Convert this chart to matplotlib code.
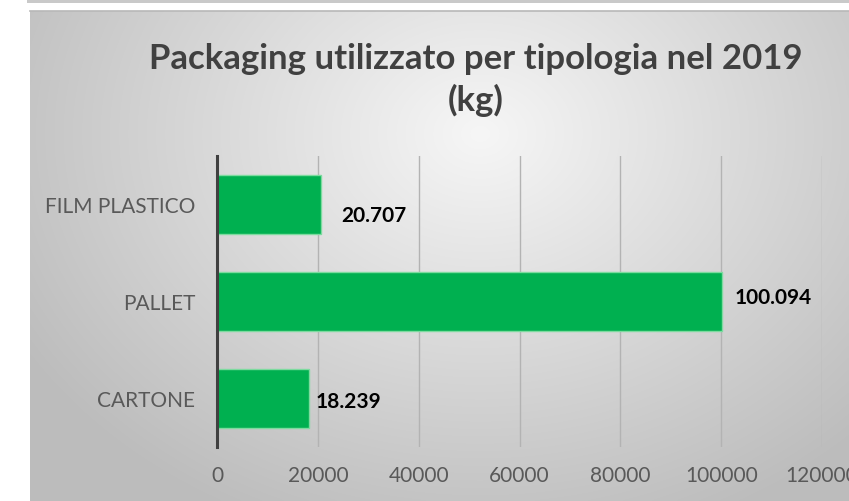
import numpy as np
import matplotlib
matplotlib.use("Agg")
import matplotlib.pyplot as plt
from matplotlib.patches import Rectangle

categories = ["CARTONE", "PALLET", "FILM PLASTICO"]
values = [18239, 100094, 20707]
value_labels = ["18.239", "100.094", "20.707"]
xticks = [0, 20000, 40000, 60000, 80000, 100000, 120000]
title = "Packaging utilizzato per tipologia nel 2019\n(kg)"

W, H = 849, 502
plt.rcParams['font.family'] = ['Lato', 'DejaVu Sans']
fig = plt.figure(figsize=(W / 100, H / 100), dpi=100)
fig.patch.set_facecolor("white")

def fx(px):
    return px / W

def fy(py):
    return 1 - py / H

# top strip
fig.patches.append(Rectangle((fx(27), fy(4)), 1, 4 / H, transform=fig.transFigure,
                             facecolor="#c9c9c9", edgecolor="none", zorder=0))

# background gradient box
bx0, by0 = 30, 12
bg = fig.add_axes([fx(bx0), 0, 1 - fx(bx0), fy(by0)], zorder=0)
nx, ny = 400, 250
u = np.linspace(0, 1, nx)[None, :]
v = np.linspace(0, 1, ny)[:, None]
d = np.sqrt(((u - 0.55) / 0.75) ** 2 + ((v - 0.25) / 1.0) ** 2)
g = np.clip(0.965 - 0.26 * d, 0.74, 1)
img = np.dstack([g, g, g])
bg.imshow(img, aspect="auto", extent=[0, 1, 0, 1], origin="upper", interpolation="bilinear")
bg.set_axis_off()
bg.plot([0, 1], [1, 1], color="#b8b8b8", lw=1.2, transform=bg.transAxes, clip_on=False)

# main axes
ax_l, ax_r, ax_t, ax_b = 217, 822, 157, 448
ax = fig.add_axes([fx(ax_l), fy(ax_b), (ax_r - ax_l) / W, (ax_b - ax_t) / H], zorder=2)
ax.patch.set_alpha(0)
ypos = np.arange(len(categories))
ax.barh(ypos, values, height=0.6, color="#00b050", edgecolor="#7ddb9f", linewidth=1.0, zorder=3)
ax.set_xlim(0, 120000)
ax.set_ylim(-0.5, 2.5)
ax.set_xticks(xticks)
ax.set_xticklabels([str(t) for t in xticks])
ax.set_yticks(ypos)
ax.set_yticklabels(categories)
ax.tick_params(axis="both", length=0, colors="#595959", labelsize=15)
ax.tick_params(axis="y", pad=15.5)
ax.tick_params(axis="x", pad=13)
for t in xticks[1:]:
    ax.axvline(t, color="#b3b3b3", lw=1.0, zorder=1)
for s in ["top", "right", "bottom"]:
    ax.spines[s].set_visible(False)
ax.spines["left"].set_color("#404040")
ax.spines["left"].set_linewidth(2.2)
ax.spines["left"].set_zorder(4)

offsets = [(7, -3), (13, 4), (20, -11)]
for yi, val, lab, (dx, dy) in zip(ypos, values, value_labels, offsets):
    ax.annotate(lab, (val, yi), xytext=(dx * 0.72, dy * 0.72), textcoords="offset points",
                ha="left", va="center", fontsize=15, fontweight="bold", color="black", zorder=5)

fig.text(fx(476), fy(80), title, ha="center", va="center", fontsize=25, fontweight="bold",
         color="#404040", linespacing=1.3)

fig.savefig("out.png", dpi=100)
